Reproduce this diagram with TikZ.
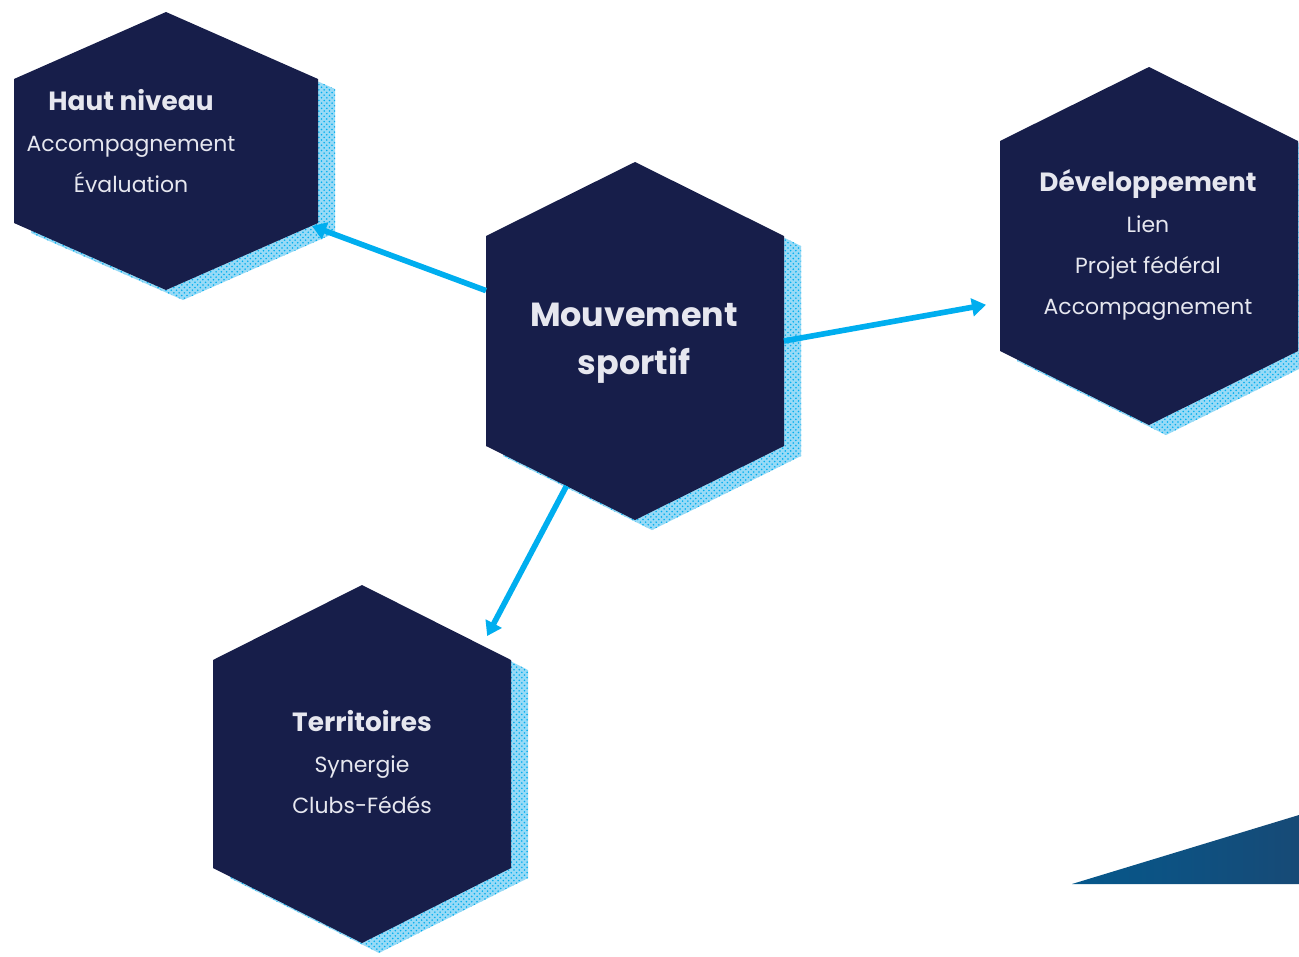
\documentclass[tikz,border=0pt]{standalone}
\usepackage{fontspec}
\setmainfont{Poppins}
\usetikzlibrary{calc, arrows.meta, patterns}
\definecolor{navy}{HTML}{171E4A}
\definecolor{sky}{HTML}{00AEEF}
\definecolor{haze}{HTML}{98DAF6}
\definecolor{paper}{HTML}{E6E7EF}
\definecolor{deepL}{HTML}{05588C}
\definecolor{deepR}{HTML}{174A76}
% hexagon: x, y, half width, half height, half side
\newcommand{\hexpath}[5]{(#1,#2-#4) -- (#1+#3,#2-#5) -- (#1+#3,#2+#5) -- (#1,#2+#4) -- (#1-#3,#2+#5) -- (#1-#3,#2-#5) -- cycle}
\newcommand{\hexa}[6]{%
  \fill[haze, shift={(17,10)}] \hexpath{#2}{#3}{#4}{#5}{#6};
  \fill[pattern=crosshatch dots, pattern color=sky, shift={(17,10)}] \hexpath{#2}{#3}{#4}{#5}{#6};
  \fill[navy] \hexpath{#2}{#3}{#4}{#5}{#6};
  \coordinate (#1-n) at (#2,#3-#5);
  \coordinate (#1-nw) at (#2-#4,#3-#6);
  \coordinate (#1-ne) at (#2+#4,#3-#6);
  \coordinate (#1-sw) at (#2-#4,#3+#6);
  \coordinate (#1-se) at (#2+#4,#3+#6);
  \coordinate (#1-s) at (#2,#3+#5);
}
\newcommand{\head}[1]{{\fontsize{15}{23}\selectfont\bfseries #1}}

\begin{document}
\begin{tikzpicture}[x=0.02cm, y=-0.02cm,
    txt/.style={text=paper, align=center, inner sep=0pt,
      font=\fontsize{12.5}{23.5}\selectfont},
    link/.style={sky, line width=3.2pt, -{Triangle[length=8pt, width=10pt]}}]
  \useasboundingbox (0,0) rectangle (1299,957);
  \fill[white] (0,0) rectangle (1299,957);
  \hexa{hn}{166}{151}{152}{139}{72}
  \hexa{mv}{635}{341}{149}{179}{105}
  \hexa{dv}{1149}{246}{149}{179}{105}
  \hexa{tr}{362}{764}{149}{179}{104}
  \shade[left color=deepL, right color=deepR] (1072,884) -- (1299,815) -- (1299,884) -- cycle;
  \node[txt] (haut) at (131,141) {\head{Haut niveau}\\ Accompagnement\\ Évaluation};
  \node[txt, font=\fontsize{19}{27}\selectfont\bfseries] (mouv) at (634,343) {Mouvement\\ sportif};
  \node[txt] (dev) at (1148,245) {\head{Développement}\\ Lien\\ Projet fédéral\\ Accompagnement};
  \node[txt] (terr) at (362,762) {\head{Territoires}\\ Synergie\\ Clubs-Fédés};
  \coordinate (dv-in) at ($(dv-nw)!0.78!(dv-sw)+(-14,0)$);
  \coordinate (tr-in) at ($(tr-n)!0.84!(tr-ne)+(0,-12)$);
  \draw[link] ($(mv-nw)!0.26!(mv-sw)$) -- ($(hn-se)+(-6,3)$);
  \draw[link] ($(mv-ne)!0.5!(mv-se)$) -- (dv-in);
  \draw[link] ($(mv-sw)!0.54!(mv-s)$) -- (tr-in);
\end{tikzpicture}
\end{document}
